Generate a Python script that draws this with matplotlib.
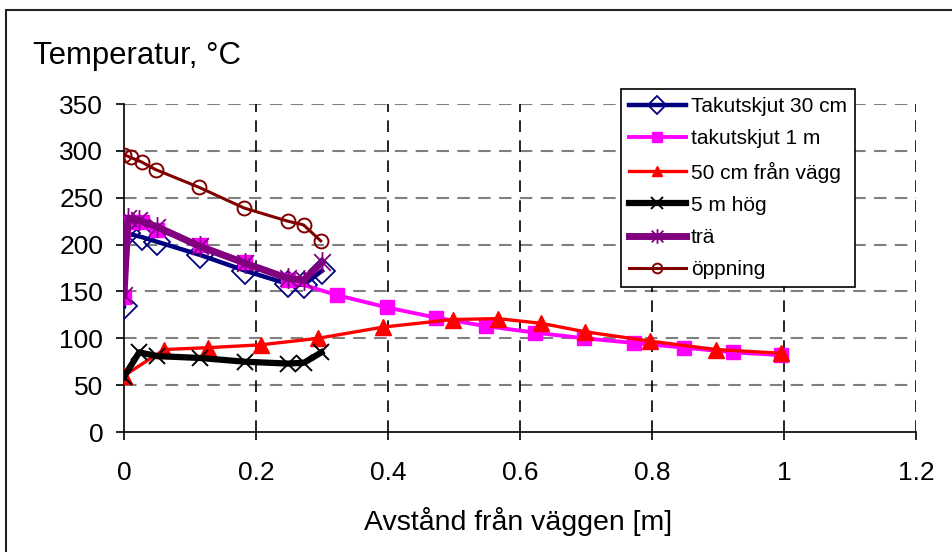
import matplotlib
matplotlib.use("Agg")
import matplotlib.pyplot as plt
from matplotlib.path import Path
from matplotlib.patches import Rectangle

plt.rcParams['font.family'] = ['Liberation Sans', 'DejaVu Sans']

# ---- data ----
x_tak30 = [0, 0.004, 0.027, 0.05, 0.115, 0.184, 0.248, 0.272, 0.300]
y_tak30 = [134, 212, 208, 203, 189, 172, 158, 157, 172]

x_tak1 = [0, 0.009, 0.027, 0.05, 0.115, 0.184, 0.248, 0.323, 0.398, 0.473,
          0.548, 0.623, 0.697, 0.773, 0.849, 0.923, 0.996]
y_tak1 = [144, 224, 224, 216, 200, 181, 162, 146, 133, 122,
          113, 106, 100, 95, 90, 85, 82]

x_50cm = [0, 0.061, 0.127, 0.207, 0.294, 0.393, 0.498, 0.566, 0.632,
          0.698, 0.797, 0.897, 0.996]
y_50cm = [60, 88, 90, 93, 100, 112, 120, 121, 116, 107, 97, 88, 84]

x_5m = [0, 0.023, 0.05, 0.115, 0.183, 0.249, 0.273, 0.299]
y_5m = [59, 85, 81, 79, 75, 73, 74, 85]

x_tra = [0, 0.006, 0.022, 0.05, 0.115, 0.184, 0.248, 0.272, 0.300]
y_tra = [146, 228, 226, 219, 198, 180, 164, 162, 181]

x_opp = [0, 0.010, 0.027, 0.048, 0.114, 0.182, 0.248, 0.272, 0.298]
y_opp = [296, 293, 288, 280, 261, 239, 225, 221, 204]

labels = ['Takutskjut 30 cm', 'takutskjut 1 m', '50 cm från vägg', '5 m hög', 'trä', 'öppning']
x_ticks = [0, 0.2, 0.4, 0.6, 0.8, 1, 1.2]
x_ticklabels = ['0', '0.2', '0.4', '0.6', '0.8', '1', '1.2']
y_ticks = [0, 50, 100, 150, 200, 250, 300, 350]

# Excel-like star marker: X plus vertical bar
star = Path([(-1, -1), (1, 1), (-1, 1), (1, -1), (0, -1.25), (0, 1.25)],
            [Path.MOVETO, Path.LINETO, Path.MOVETO, Path.LINETO, Path.MOVETO, Path.LINETO])

W, H = 953, 552
fig = plt.figure(figsize=(W / 100, H / 100), dpi=100)
ax = fig.add_axes([124 / W, (H - 432) / H, (916 - 124) / W, (432 - 104) / H])

ax.plot(x_tak30, y_tak30, color='#000080', lw=3.2, marker='D', ms=13,
        mfc='none', mec='#000080', mew=1.3, label=labels[0], zorder=3)
ax.plot(x_tak1, y_tak1, color='#FF00FF', lw=2.8, marker='s', ms=10,
        mfc='#FF00FF', mec='#FF00FF', label=labels[1], zorder=4)
ax.plot(x_50cm, y_50cm, color='#FF0000', lw=2.4, marker='^', ms=11,
        mfc='#FF0000', mec='#FF0000', label=labels[2], zorder=5)
ax.plot(x_5m, y_5m, color='#000000', lw=4.5, marker='x', ms=12,
        mec='#000000', mew=1.4, label=labels[3], zorder=6)
ax.plot(x_tra, y_tra, color='#800080', lw=5, marker=star, ms=15,
        mec='#800080', mew=1.3, label=labels[4], zorder=7)
ax.plot(x_opp, y_opp, color='#800000', lw=2.2, marker='o', ms=10,
        mfc='none', mec='#800000', mew=1.4, label=labels[5], zorder=8)

ax.set_xlim(0, 1.2)
ax.set_ylim(0, 350)
ax.set_xticks(x_ticks)
ax.set_xticklabels(x_ticklabels)
ax.set_yticks(y_ticks)

for v in y_ticks[1:]:
    ax.axhline(v, color='#808080', lw=1.5, ls=(0, (6, 4)), zorder=1)
for v in x_ticks[1:]:
    ax.axvline(v, color='#000000', lw=1.2, ls=(0, (7, 5)), zorder=1)

for s in ['top', 'right']:
    ax.spines[s].set_visible(False)
for s in ['left', 'bottom']:
    ax.spines[s].set_linewidth(1.2)
    ax.spines[s].set_color('black')

ax.tick_params(axis='both', direction='out', length=6, width=1.2, labelsize=19)
ax.tick_params(axis='x', pad=15)
ax.tick_params(axis='y', pad=9)

fig.text(518 / W, 1 - 521 / H, 'Avstånd från väggen [m]', fontsize=20.5,
         ha='center', va='center')
fig.text(33 / W, 1 - 56 / H, 'Temperatur, °C', fontsize=22.4, ha='left', va='center')

leg = fig.legend(loc='upper left', bbox_to_anchor=(621 / W, 1 - 89 / H),
                 bbox_transform=fig.transFigure, fontsize=15, frameon=True,
                 fancybox=False, edgecolor='black', framealpha=1,
                 handlelength=2.7, handletextpad=0.25, labelspacing=0.63,
                 borderpad=0.4, borderaxespad=0, markerscale=0.7)
leg.get_frame().set_linewidth(1.2)

fig.patches.append(Rectangle((6 / W, -0.5), 2, 1.5 - 10 / H,
                             transform=fig.transFigure, fill=False,
                             edgecolor='#222222', lw=1.5))

fig.savefig('out.png', dpi=100)
